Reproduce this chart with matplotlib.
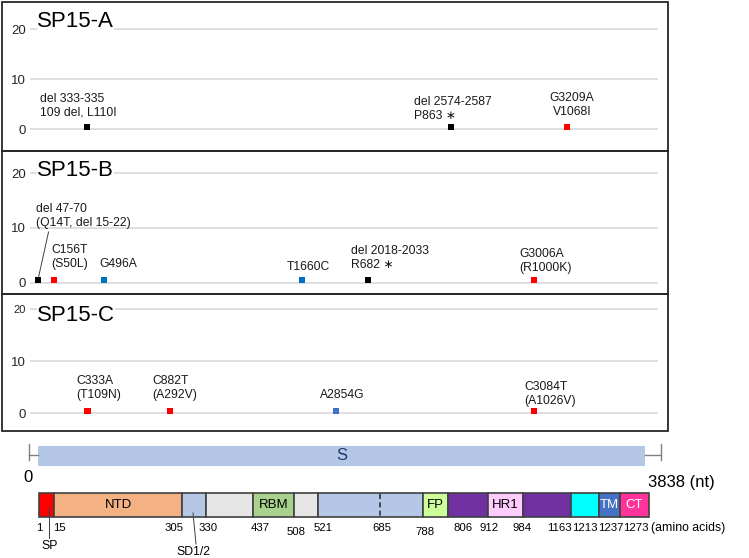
import numpy as np
import matplotlib
matplotlib.use('Agg')
import matplotlib.pyplot as plt
from matplotlib.patches import Rectangle

plt.rcParams['font.family'] = ['Liberation Sans', 'DejaVu Sans']

W, H = 749, 558

# ── data ─────────────────────────────────────────────────────────────────────
nt_length = 3838
panel_names = ['SP15-A', 'SP15-B', 'SP15-C']

# positions as drawn on the (schematic) nt axis of each panel
a_labels = ['del 333-335\n109 del, L110I', 'del 2574-2587\nP863 \u2217', 'G3209A\nV1068I']
a_pos = [310, 2611, 3345]
a_val = [0.5, 0.5, 0.5]
a_col = ['black', 'black', 'red']

b_labels = ['del 47-70\n(Q14T, del 15-22)', 'C156T\n(S50L)', 'G496A', 'T1660C',
            'del 2018-2033\nR682 \u2217', 'G3006A\n(R1000K)']
b_pos = [0, 102, 418, 1669, 2087, 3136]
b_val = [0.5, 0.5, 0.5, 0.5, 0.5, 0.5]
b_col = ['black', 'red', '#0070C0', '#0070C0', 'black', 'red']

c_labels = ['C333A\n(T109N)', 'C882T\n(A292V)', 'A2854G', 'C3084T\n(A1026V)']
c_pos = [314, 835, 1884, 3136]
c_val = [0.5, 0.5, 0.5, 0.5]
c_col = ['red', 'red', '#4472C4', 'red']

# spike protein domains (amino acids)
domain_start = [1, 15, 305, 330, 437, 508, 521, 788, 806, 912, 984, 1163, 1213, 1237]
domain_end = [15, 305, 330, 437, 508, 521, 788, 806, 912, 984, 1163, 1213, 1237, 1273]
domain_names = ['', 'NTD', '', '', 'RBM', '', '', 'FP', '', 'HR1', '', '', 'TM', 'CT']
domain_colors = ['#FF0000', '#F4B183', '#B4C7E7', '#E7E6E6', '#A9D18E', '#E7E6E6',
                 '#B4C7E7', '#CCFF99', '#7030A0', '#FFCCFF', '#7030A0', '#00FFFF',
                 '#4472C4', '#FF3399']
domain_text_col = ['black'] * 12 + ['white', 'white']
boundary_aa = [1, 15, 305, 330, 437, 508, 521, 685, 788, 806, 912, 984, 1163,
               1213, 1237, 1273]

# ── layout (pixels) ──────────────────────────────────────────────────────────
# schematic x of each boundary in the domain drawing
boundary_px = [39, 54, 182, 206, 253, 294, 318, 380, 423, 448, 488, 523, 571,
               599, 620, 649]
label_px = [39, 59, 174, 208, 260, 296, 323, 382, 425, 463, 489, 522, 559,
            585, 610.5, 636]
label_py = [528, 528, 528, 528, 528, 532, 528, 528, 532, 528, 528, 528, 528,
            528, 528, 528]

# panel: (frame top, frame bottom, y px of value 0, y px of value 20, title y)
panels = [(2, 151, 129.3, 29.0, 21.7),
          (151, 294, 282.7, 173.3, 170.0),
          (294, 431, 413.3, 309.3, 315.7)]
# label offsets (dx, dy px, ha) relative to each marker
a_off = [(-47, 21, 'left'), (-37, 18, 'left'), (5, 22, 'center')]
b_off = [(-2, 64, 'left'), (-3, 23, 'left'), (-5, 16, 'left'), (6, 13, 'center'),
         (-17, 22, 'left'), (-15, 19, 'left')]
c_off = [(-11, 23, 'left'), (-18, 23, 'left'), (-16, 16, 'left'), (-10, 17, 'left')]

fig = plt.figure(figsize=(W / 100, H / 100), dpi=100)


def px_axes(x0, x1, ytop, ybot):
    return fig.add_axes([x0 / W, 1 - ybot / H, (x1 - x0) / W, (ybot - ytop) / H])


# overlay in pixel coordinates for frames + domain schematic
ov = fig.add_axes([0, 0, 1, 1])
ov.set_xlim(0, W)
ov.set_ylim(H, 0)
ov.axis('off')

for top, bot, *_ in panels:
    ov.add_patch(Rectangle((2, top), 666, bot - top, fill=False,
                           ec='#262626', lw=1.3))

# ── mutation panels ─────────────────────────────────────────────────────────
series = [(a_labels, a_pos, a_val, a_col, a_off),
          (b_labels, b_pos, b_val, b_col, b_off),
          (c_labels, c_pos, c_val, c_col, c_off)]

for k, (name, (top, bot, y0, y20, ty), (labs, pos, val, col, off)) in \
        enumerate(zip(panel_names, panels, series)):
    ppu = (y0 - y20) / 20
    ax = px_axes(30, 658, y20 - 2 * ppu, y0 + 2 * ppu)
    ax.set_facecolor('none')
    ax.set_xlim(-50, 3920)
    ax.set_ylim(-2, 22)
    ax.set_yticks([0, 10, 20])
    ax.set_xticks([])
    ax.yaxis.grid(True, color='#D9D9D9', lw=1.2)
    ax.set_axisbelow(True)
    for s in ax.spines.values():
        s.set_visible(False)
    ax.tick_params(axis='y', length=0, pad=3, labelsize=9.5, labelcolor='#262626')
    if k == 2:
        ax.yaxis.get_major_ticks()[2].label1.set_fontsize(8)
    ax.scatter(pos, val, marker='s', s=20, c=col, linewidths=0, zorder=3,
               clip_on=False)
    for lab, x, y, (dx, dy, ha) in zip(labs, pos, val, off):
        kw = {}
        if lab.startswith('del 47'):
            kw['arrowprops'] = dict(arrowstyle='-', color='#404040', lw=0.7,
                                    relpos=(0.14, 0.0), shrinkA=0, shrinkB=2)
        ax.annotate(lab, (x, y), xytext=(dx, dy), textcoords='offset pixels',
                    ha=ha, va='center', fontsize=8.7, linespacing=1.25,
                    color='#1a1a1a', zorder=4, **kw)
    fig.text(37 / W, 1 - ty / H, name, ha='left', va='center', fontsize=16,
             color='black',
             bbox=dict(boxstyle='square,pad=0', fc='white', ec='none'))

# ── S gene bar (nt) ─────────────────────────────────────────────────────────
sax = px_axes(38, 645, 446, 466)
sax.set_xlim(0, nt_length)
sax.set_ylim(0, 1)
sax.axis('off')
sax.barh(0.5, nt_length, left=0, height=1, color='#B4C7E7')
nt_per_px = nt_length / (645 - 38)
lx, rx = -9 * nt_per_px, nt_length + 16 * nt_per_px
sax.plot([lx, 0], [0.55, 0.55], color='#808080', lw=1, clip_on=False)
sax.plot([nt_length, rx], [0.55, 0.55], color='#808080', lw=1, clip_on=False)
sax.plot([lx, lx], [0.3, 1.1], color='#808080', lw=1, clip_on=False)
sax.plot([rx, rx], [0.3, 1.1], color='#808080', lw=1, clip_on=False)
sax.text(nt_length / 2, 0.5, 'S', ha='center', va='center', fontsize=12,
         color='#1F3A6E')
sax.annotate('0', (0, 0.5), xytext=(-10, -22), textcoords='offset pixels',
             ha='center', va='center', fontsize=12)
sax.annotate(f'{nt_length} (nt)', (nt_length, 0.5), xytext=(3, -26),
             textcoords='offset pixels', ha='left', va='center', fontsize=12)


# ── domain schematic (aa) ───────────────────────────────────────────────────
def aa2px(a):
    return np.interp(a, boundary_aa, boundary_px)


for s0, s1, nm, fc, tc in zip(domain_start, domain_end, domain_names,
                              domain_colors, domain_text_col):
    x0, x1 = aa2px(s0), aa2px(s1)
    ov.add_patch(Rectangle((x0, 493), x1 - x0, 24, fc=fc, ec='#404040', lw=1.2))
    if nm:
        ov.text((x0 + x1) / 2, 505.5, nm, ha='center', va='center',
                fontsize=9.5, color=tc)
ov.plot([aa2px(685)] * 2, [494, 516], color='#333333', lw=1.2, ls=(0, (3, 2)))

for a, x, y in zip(boundary_aa, label_px, label_py):
    ov.text(x, y, str(a), ha='center', va='center', fontsize=8.2)
ov.text(651, 528, '(amino acids)', ha='left', va='center', fontsize=8.8)

# leaders for SP and SD1/2
ov.plot([49, 49], [507, 538], color='#404040', lw=0.7)
ov.text(50, 546, 'SP', ha='center', va='center', fontsize=8.8)
ov.plot([193, 196], [513, 544], color='#404040', lw=0.7)
ov.text(193, 552, 'SD1/2', ha='center', va='center', fontsize=8.8)

fig.savefig('out.png', dpi=100)
